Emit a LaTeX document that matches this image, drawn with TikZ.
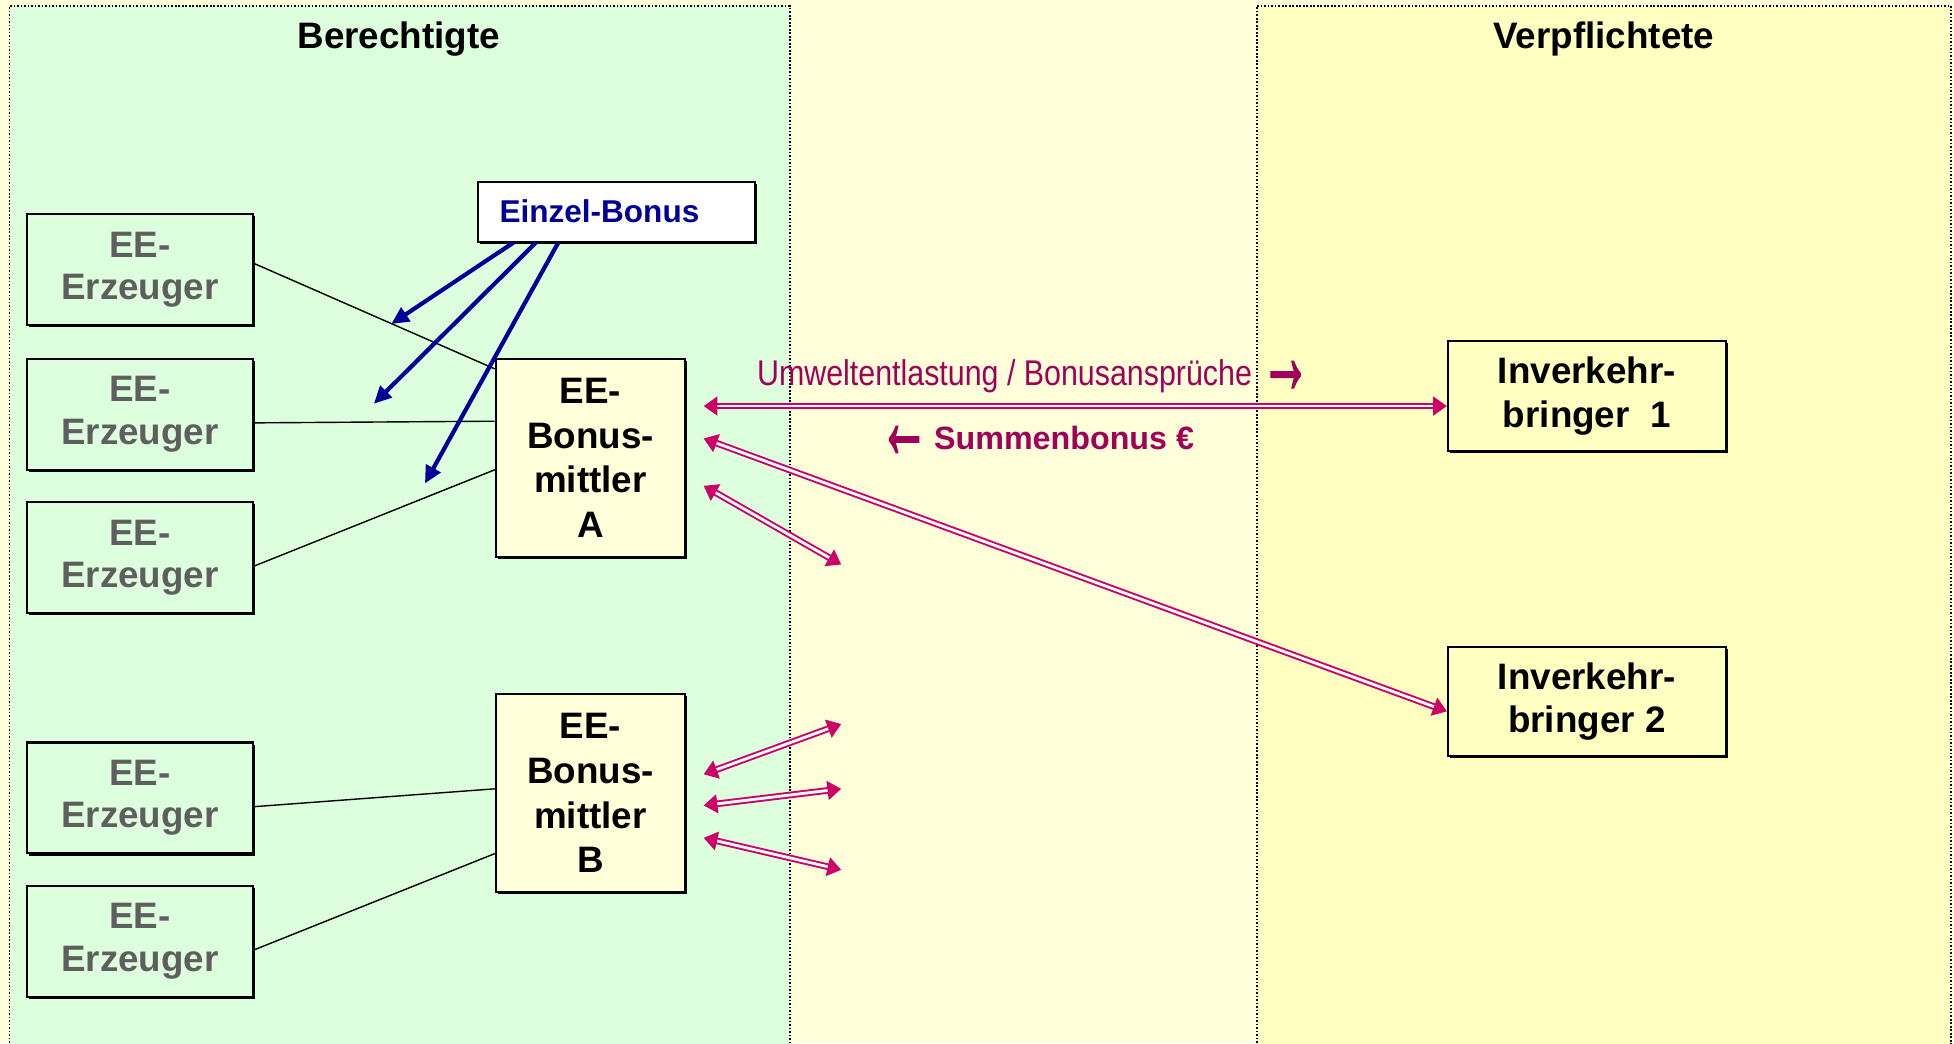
\documentclass[tikz,border=0pt]{standalone}
\usepackage{graphicx}
\usepackage{fontspec}
\setmainfont{Liberation Sans}
\newfontfamily\arrowfont[FakeBold=2.2]{Liberation Sans}
\newfontfamily\narrowsans[FakeStretch=0.85]{Liberation Sans}
\usetikzlibrary{arrows.meta,calc,shadows}
\newlength{\pxu}\setlength{\pxu}{0.0125cm}
\newcommand{\bigarrow}[1]{{\arrowfont\fontsize{13.5}{12}\selectfont\raisebox{-2.2pt}[7pt][0pt]{\scalebox{1.05}[2.3]{#1}}}}
\definecolor{greenbg}{HTML}{DDFFDD}
\definecolor{lightyel}{HTML}{FFFFDA}
\definecolor{yelbg}{HTML}{FFFFC2}
\definecolor{bonusblue}{HTML}{000099}
\definecolor{arrowmag}{HTML}{CC0066}
\definecolor{textmag}{HTML}{A0005A}
\definecolor{erzgray}{HTML}{5F5F5F}
\begin{document}
\begin{tikzpicture}[x=0.0125cm,y=-0.0125cm,
  panel/.style={draw=black, line width=0.5pt, dash pattern=on 0.45pt off 0.55pt, inner sep=0, anchor=north west},
  shade box/.style={drop shadow={shadow xshift=0.6pt, shadow yshift=-0.6pt, opacity=1, fill=black}},
  erz/.style={draw=black, line width=0.6pt, fill=greenbg, shade box, minimum width=181\pxu, minimum height=89\pxu,
    inner sep=0, anchor=north west, align=center, text=erzgray, font=\fontsize{10.5}{12.1}\selectfont\bfseries},
  mittler/.style={draw=black, line width=0.6pt, fill=lightyel, shade box, minimum width=152\pxu, minimum height=159\pxu,
    inner sep=0, anchor=north west, align=center, font=\fontsize{10.5}{12.8}\selectfont\bfseries},
  inv/.style={draw=black, line width=0.6pt, fill=yelbg, shade box, minimum width=223\pxu, minimum height=88\pxu,
    inner sep=0, anchor=north west, align=center, font=\fontsize{10.5}{12.45}\selectfont\bfseries},
  head/.style={font=\fontsize{10.5}{12}\selectfont\bfseries},
  thinline/.style={draw=black, line width=0.4pt},
  bluearr/.style={draw=bonusblue, line width=1.2pt, -{Triangle[length=5pt,width=4.6pt]}},
  dbl/.style={draw=arrowmag, line width=0.55pt, double=white, double distance=0.8pt,
    {Triangle[length=3.9pt,width=5.4pt]}-{Triangle[length=3.9pt,width=5.4pt]}}
]
\useasboundingbox (0,0) rectangle (1568,837);
\fill[lightyel] (0,0) rectangle (1568,837);
\node[panel, fill=greenbg, minimum width=626\pxu, minimum height=845\pxu] (pl) at (7,4) {};
\node[panel, fill=yelbg, minimum width=557\pxu, minimum height=845\pxu] (pr) at (1008,4) {};

\node[head] (hl) at (320,31) {Berechtigte};
\node[head] (hr) at (1287,31) {Verpflichtete};

% Erzeuger
\node[erz] (e1) at (21,171) {EE-\\Erzeuger};
\node[erz] (e2) at (21,287) {EE-\\Erzeuger};
\node[erz] (e3) at (21,402) {EE-\\Erzeuger};
\node[erz] (e4) at (21,595) {EE-\\Erzeuger};
\node[erz] (e5) at (21,710) {EE-\\Erzeuger};

% Bonusmittler
\node[mittler] (ma) at (397,287) {EE-\\Bonus-\\mittler\\A};
\node[mittler] (mb) at (397,556) {EE-\\Bonus-\\mittler\\B};

% Einzel-Bonus
\node[draw=black, line width=0.6pt, fill=white, shade box, anchor=north west, minimum height=48\pxu,
  text width=188\pxu, inner xsep=17\pxu, inner ysep=0, align=left, text=bonusblue,
  font=\fontsize{9}{10}\selectfont\bfseries] (eb) at (383,145) {Einzel-Bonus};

% Inverkehrbringer
\node[inv] (i1) at (1161,273) {Inverkehr-\\bringer~~1};
\node[inv] (i2) at (1161,518) {Inverkehr-\\bringer 2};

% thin lines
\draw[thinline] ($(e1.east)+(0,-5)$) -- ($(ma.north west)+(0,9)$);
\draw[thinline] ($(e2.east)+(0,7)$) -- ($(ma.north west)+(0,51)$);
\draw[thinline] ($(e3.east)+(0,7)$) -- ($(ma.north west)+(0,90)$);
\draw[thinline] ($(e4.east)+(0,7)$) -- ($(mb.north west)+(0,77)$);
\draw[thinline] ($(e5.east)+(0,7)$) -- ($(mb.north west)+(0,129)$);

% blue arrows
\coordinate (t1) at (314,260);
\coordinate (t2) at (300,324);
\coordinate (t3) at (341,388);
\draw[bluearr] ($(eb.south west)+(29,0)$) -- (t1);
\draw[bluearr] ($(eb.south west)+(47,0)$) -- (t2);
\draw[bluearr] ($(eb.south west)+(65,0)$) -- (t3);

% magenta arrows
\coordinate (fa) at (675,453);
\coordinate (fb1) at (675,581);
\coordinate (fb2) at (675,633);
\coordinate (fb3) at (675,698);
\draw[dbl] ($(ma.east)+(14,-41.5)$) -- ($(i1.west)+(0,8)$);
\draw[dbl] ($(ma.east)+(14,-15.5)$) -- ($(i2.west)+(0,8)$);
\draw[dbl] ($(ma.east)+(14,22.5)$) -- (fa);
\draw[dbl] ($(mb.east)+(14,-15)$) -- (fb1);
\draw[dbl] ($(mb.east)+(14,10)$) -- (fb2);
\draw[dbl] ($(mb.east)+(14,36)$) -- (fb3);

% labels
\node[anchor=base west, inner sep=0, text=textmag, font=\fontsize{10.2}{11}\narrowsans] (um) at (607,309)
  {Umweltentlastung / Bonusansprüche\hspace{2.5pt}\bigarrow{→}};
\node[anchor=base west, inner sep=0, text=textmag, font=\fontsize{9.2}{10}\selectfont\bfseries] (sb) at (705,361)
  {\bigarrow{←}\hspace{1.5pt}Summenbonus €};
\end{tikzpicture}
\end{document}
